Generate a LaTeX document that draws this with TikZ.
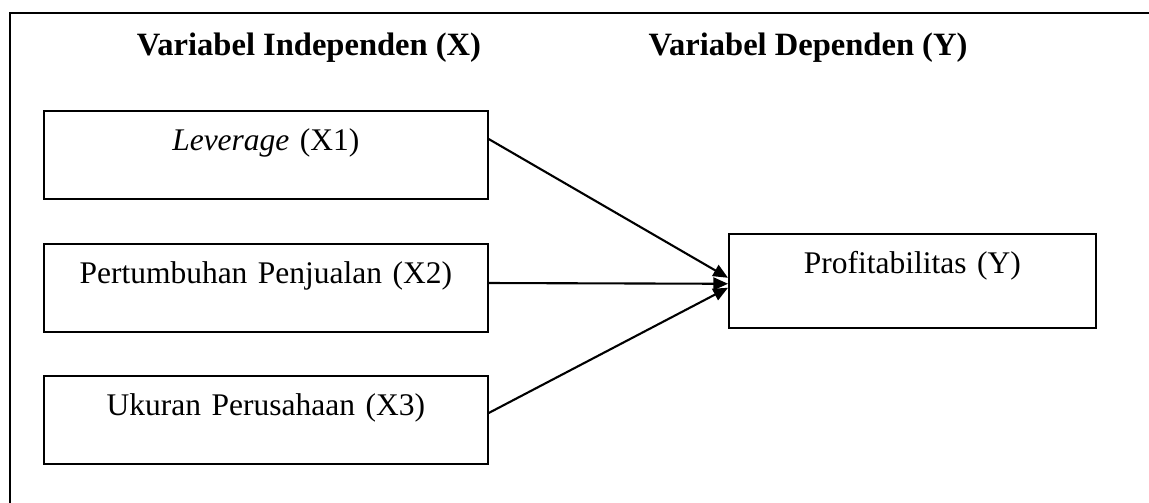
\documentclass[tikz,border=0pt]{standalone}
\usepackage{fontspec}
\setmainfont{Liberation Serif}
\usetikzlibrary{calc,arrows.meta}

\tikzset{
  txt/.style={font=\fontsize{12}{14}\selectfont},
  head/.style={font=\fontsize{12.4}{14}\selectfont\bfseries, anchor=base},
  varbox/.style={txt, draw, line width=0.6pt, anchor=north west, inner sep=0pt,
    align=center, text height=15.2pt, text depth=18.3pt},
  leftbox/.style={varbox, text width=169.2pt},
  rightbox/.style={varbox, text width=139.8pt, text depth=20.6pt},
  link/.style={line width=0.8pt, -{Triangle[length=5.6pt,width=4.8pt]}},
  frame/.style={line width=1pt}
}

\begin{document}
\begin{tikzpicture}[x=0.381pt, y=-0.381pt]
  \useasboundingbox (0,0) rectangle (1149,502);
  \clip (0,0) rectangle (1149,502);

  % outer frame (runs past the page on the right and at the bottom)
  \draw[frame] (10,520) -- (10,13) -- (1170,13);

  % column headings
  \node[head] (hx) at (309,55) {Variabel Independen (X)};
  \node[head] (hy) at (808,55) {Variabel Dependen (Y)};

  % independent variables
  \node[leftbox] (x1) at (43,110) {\textit{Leverage} (X1)};
  \node[leftbox] (x2) at (43,243) {Pertumbuhan Penjualan (X2)};
  \node[leftbox] (x3) at (43,375) {Ukuran Perusahaan (X3)};

  % dependent variable
  \node[rightbox] (y) at (728,233) {Profitabilitas (Y)};

  % influence paths
  \draw[link] ($(x1.north east)+(0,29)$) -- ($(y.west)+(0,-3)$);
  \draw[link] ($(x2.north east)+(0,40)$) -- ($(y.west)+(0,3)$);
  \draw[link] ($(x3.north east)+(0,38)$) -- ($(y.west)+(0,7)$);
\end{tikzpicture}
\end{document}
